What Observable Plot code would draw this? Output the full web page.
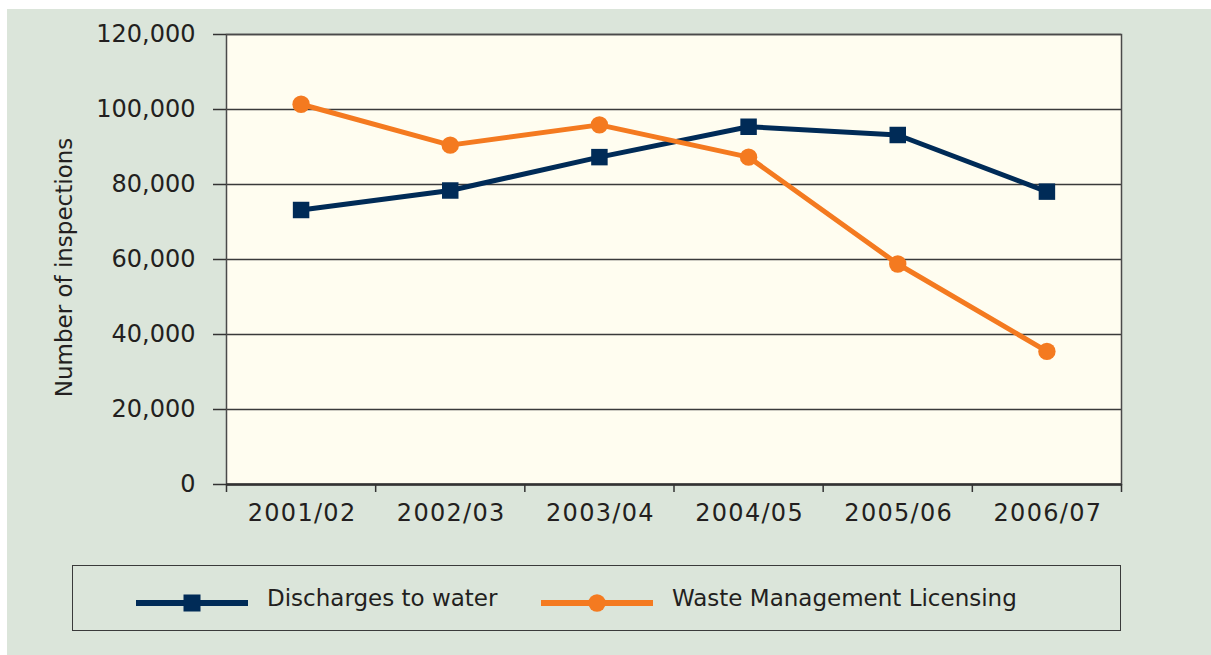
<!DOCTYPE html>
<html>
<head>
<meta charset="utf-8">
<script src="https://cdn.jsdelivr.net/npm/d3@7"></script>
<script src="https://cdn.jsdelivr.net/npm/@observablehq/plot@0.6"></script>
<style>
  html, body { margin: 0; padding: 0; background: #ffffff; }
  body { width: 1211px; height: 655px; position: relative; overflow: hidden; font-family: "DejaVu Sans", sans-serif; }
  #wrap { position: absolute; left: 7px; top: 9px; width: 1204px; height: 646px; background: #dbe5da; }
  #chart { position: absolute; left: 0; top: 0; }
  #chart g[aria-label="x-axis tick label"] text { letter-spacing: 1.3px; }
  #legend { position: absolute; left: 65px; top: 556px; width: 1049px; height: 66px; box-sizing: border-box;
            border: 1.5px solid #3a3a3a; }
  .sw { position: absolute; top: 27px; }
  .lt { position: absolute; top: 21px; font-size: 23px; line-height: 23px; color: #231f20; white-space: nowrap; }
</style>
</head>
<body>
<div id="wrap">
  <div id="chart"></div>
  <div id="legend"></div>
</div>
<script>
const years = ["2001/02", "2002/03", "2003/04", "2004/05", "2005/06", "2006/07"];
const discharges = [73200, 78400, 87300, 95400, 93200, 78100];
const waste = [101400, 90500, 95900, 87300, 58800, 35500];
const yTicks = [0, 20000, 40000, 60000, 80000, 100000, 120000];
const seriesNames = ["Discharges to water", "Waste Management Licensing"];
const seriesColors = ["#002b57", "#f47a20"];
const yLabel = "Number of inspections";

const rows = years.flatMap((yr, i) => [
  {i, year: yr, series: seriesNames[0], value: discharges[i]},
  {i, year: yr, series: seriesNames[1], value: waste[i]}
]);
const xPos = d => d.i + 0.5;

const chart = Plot.plot({
  width: 1204,
  height: 540,
  marginLeft: 219,
  marginRight: 90,
  marginTop: 25,
  marginBottom: 65,
  style: {fontFamily: "DejaVu Sans", fontSize: "24px", color: "#231f20", background: "transparent", overflow: "visible"},
  x: {type: "linear", domain: [0, years.length]},
  y: {domain: [0, 120000]},
  color: {domain: seriesNames, range: seriesColors},
  marks: [
    Plot.frame({fill: "#fffdf0"}),
    Plot.gridY(yTicks, {stroke: "#3a3a3a", strokeOpacity: 1, strokeWidth: 1.5}),
    Plot.frame({stroke: "#4a4a4a", strokeWidth: 1.5}),
    Plot.ruleY([0], {stroke: "#333333", strokeWidth: 2.5}),
    Plot.axisY(yTicks, {tickSize: 13, tickPadding: 18, tickFormat: d3.format(","), stroke: "#333333", strokeWidth: 1.5, label: null, fill: "#231f20"}),
    Plot.axisX(d3.range(years.length + 1), {tickSize: 8, tickFormat: () => "", stroke: "#333333", strokeWidth: 1.5, label: null}),
    Plot.axisX(d3.range(years.length).map(i => i + 0.5), {tickSize: 0, tickPadding: 19, tickFormat: d => years[Math.floor(d)], label: null, fill: "#231f20", dx: 1}),
    Plot.text([yLabel], {text: d => d, frameAnchor: "left", rotate: -90, dx: -162, dy: 8, fontSize: 23, textAnchor: "middle", lineAnchor: "middle", fill: "#231f20"}),
    Plot.line(rows, {x: xPos, y: "value", z: "series", stroke: "series", strokeWidth: 5}),
    Plot.dot(rows.filter(d => d.series === seriesNames[0]), {x: xPos, y: "value", symbol: "square", r: 9.3, fill: "series"}),
    Plot.dot(rows.filter(d => d.series === seriesNames[1]), {x: xPos, y: "value", symbol: "circle", r: 8.7, fill: "series"})
  ]
});
document.getElementById("chart").appendChild(chart);

// Legend
const legend = document.getElementById("legend");
const items = [
  {name: seriesNames[0], color: seriesColors[0], shape: "square", swX: 63, txtX: 194},
  {name: seriesNames[1], color: seriesColors[1], shape: "circle", swX: 468, txtX: 599}
];
for (const it of items) {
  const ns = "http://www.w3.org/2000/svg";
  const svg = document.createElementNS(ns, "svg");
  svg.setAttribute("width", 112);
  svg.setAttribute("height", 20);
  svg.setAttribute("class", "sw");
  svg.style.left = it.swX + "px";
  const ln = document.createElementNS(ns, "line");
  ln.setAttribute("x1", 0); ln.setAttribute("x2", 112);
  ln.setAttribute("y1", 10); ln.setAttribute("y2", 10);
  ln.setAttribute("stroke", it.color); ln.setAttribute("stroke-width", 6);
  svg.appendChild(ln);
  if (it.shape === "square") {
    const r = document.createElementNS(ns, "rect");
    r.setAttribute("x", 56 - 8.5); r.setAttribute("y", 10 - 8.5);
    r.setAttribute("width", 17); r.setAttribute("height", 17);
    r.setAttribute("fill", it.color);
    svg.appendChild(r);
  } else {
    const c = document.createElementNS(ns, "circle");
    c.setAttribute("cx", 56); c.setAttribute("cy", 10); c.setAttribute("r", 8.7);
    c.setAttribute("fill", it.color);
    svg.appendChild(c);
  }
  legend.appendChild(svg);
  const t = document.createElement("span");
  t.className = "lt";
  t.style.left = it.txtX + "px";
  t.textContent = it.name;
  legend.appendChild(t);
}
</script>
</body>
</html>
